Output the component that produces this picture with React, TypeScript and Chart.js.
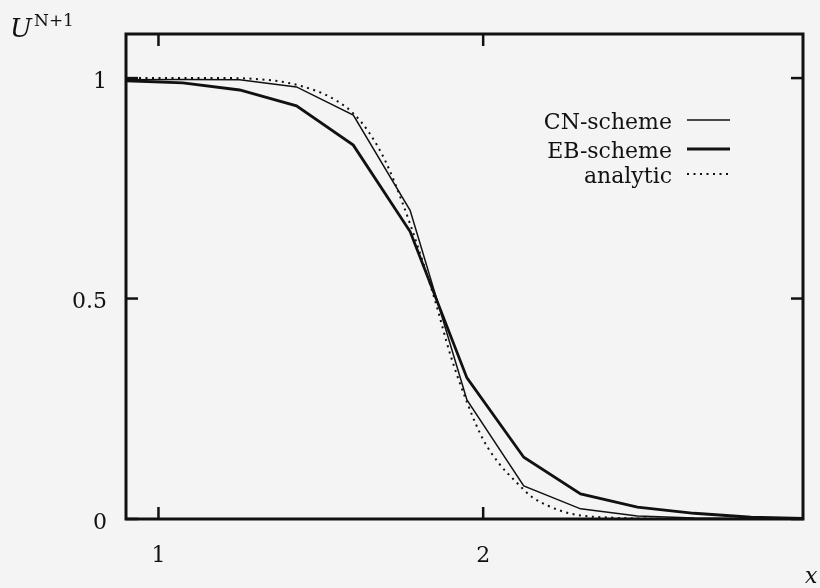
import React, { useEffect, useRef } from "react";
import { Chart, registerables } from "chart.js";

Chart.register(...registerables);

// Node positions of the numerical schemes
const nodeX = [0.9, 1.075, 1.25, 1.425, 1.6, 1.775, 1.95, 2.125, 2.3, 2.475, 2.65, 2.825, 3.0];
const cnValues = [0.996, 0.997, 0.996, 0.98, 0.916, 0.7, 0.27, 0.075, 0.023, 0.007, 0.002, 0.0005, 0];
const ebValues = [0.994, 0.989, 0.973, 0.937, 0.848, 0.652, 0.32, 0.14, 0.057, 0.027, 0.013, 0.004, 0.001];

// Analytic solution
const analyticX = [0.9, 1.0, 1.1, 1.2, 1.3, 1.4, 1.5, 1.55, 1.6, 1.65, 1.7, 1.75, 1.8, 1.85, 1.9, 1.95, 2.0, 2.05, 2.1, 2.15, 2.2, 2.25, 2.3, 2.4, 2.5, 2.6, 2.8, 3.0];
const analyticValues = [1.0, 1.0, 1.0, 1.0, 0.998, 0.989, 0.967, 0.948, 0.92, 0.875, 0.81, 0.72, 0.615, 0.5, 0.37, 0.265, 0.18, 0.125, 0.085, 0.05, 0.03, 0.016, 0.008, 0.003, 0.001, 0, 0, 0];

const xTicks = [1, 2];
const yTicks = [0, 0.5, 1];
const xTickLabels = ["1", "2"];
const yTickLabels = ["0", "0.5", "1"];

const legendLabels = ["CN-scheme", "EB-scheme", "analytic"];

const INK = "#111111";
const SERIF = "'DejaVu Serif', 'Liberation Serif', serif";

const decorPlugin = {
  id: "decor",
  beforeDraw(chart: any) {
    const { ctx, width, height } = chart;
    ctx.save();
    ctx.fillStyle = "#f4f4f4";
    ctx.fillRect(0, 0, width, height);
    ctx.restore();
  },
  afterDatasetsDraw(chart: any) {
    const { ctx, chartArea: a, scales } = chart;
    ctx.save();
    ctx.strokeStyle = INK;
    ctx.lineWidth = 3;
    ctx.strokeRect(a.left, a.top, a.right - a.left, a.bottom - a.top);

    const seg = (x1: number, y1: number, x2: number, y2: number) => {
      ctx.beginPath();
      ctx.moveTo(x1, y1);
      ctx.lineTo(x2, y2);
      ctx.stroke();
    };
    ctx.lineWidth = 2.5;
    xTicks.forEach((v) => {
      const px = scales.x.getPixelForValue(v);
      seg(px, a.bottom, px, a.bottom - 12);
      seg(px, a.top, px, a.top + 12);
    });
    yTicks.forEach((v) => {
      const py = scales.y.getPixelForValue(v);
      seg(a.left, py, a.left + 12, py);
      seg(a.right, py, a.right - 12, py);
    });

    // Legend
    const ds = chart.data.datasets;
    const textRight = 672;
    const baselines = [129, 158, 183];
    ctx.font = `22px ${SERIF}`;
    ctx.fillStyle = INK;
    ctx.textAlign = "right";
    ctx.textBaseline = "alphabetic";
    legendLabels.forEach((lab, i) => {
      ctx.fillText(lab, textRight, baselines[i]);
      const ly = baselines[i] - 9;
      const d = ds[i];
      ctx.strokeStyle = INK;
      ctx.lineWidth = d.borderWidth;
      ctx.setLineDash(d.borderDash || []);
      seg(687, ly, 730, ly);
      ctx.setLineDash([]);
    });

    // Axis titles
    ctx.textAlign = "left";
    ctx.font = `italic 22px ${SERIF}`;
    ctx.fillText("x", 805, 583);
    ctx.font = `italic 26px ${SERIF}`;
    ctx.fillText("U", 10, 37);
    ctx.font = `17px ${SERIF}`;
    ctx.fillText("N+1", 34, 26);
    ctx.restore();
  },
};

export default function App() {
  const ref = useRef<HTMLCanvasElement>(null);
  useEffect(() => {
    if (!ref.current) return;
    const pts = (xs: number[], ys: number[]) => xs.map((x, i) => ({ x, y: ys[i] }));
    const chart = new Chart(ref.current, {
      type: "line",
      data: {
        datasets: [
          {
            label: legendLabels[0],
            data: pts(nodeX, cnValues),
            borderColor: INK,
            borderWidth: 1.5,
            pointRadius: 0,
            tension: 0,
          },
          {
            label: legendLabels[1],
            data: pts(nodeX, ebValues),
            borderColor: INK,
            borderWidth: 2.8,
            pointRadius: 0,
            tension: 0,
          },
          {
            label: legendLabels[2],
            data: pts(analyticX, analyticValues),
            borderColor: INK,
            borderWidth: 2,
            borderDash: [2, 4.5],
            pointRadius: 0,
            cubicInterpolationMode: "monotone",
          },
        ],
      },
      options: {
        responsive: false,
        animation: false,
        layout: { padding: { left: 0, right: 17, top: 34, bottom: 0 } },
        plugins: { legend: { display: false }, tooltip: { enabled: false } },
        scales: {
          x: {
            type: "linear",
            min: 0.9,
            max: 2.985,
            grid: { display: false, drawTicks: false },
            border: { display: false },
            afterBuildTicks: (s: any) => {
              s.ticks = xTicks.map((v) => ({ value: v }));
            },
            afterFit: (s: any) => {
              s.height = 69;
            },
            ticks: {
              padding: 24,
              maxRotation: 0,
              autoSkip: false,
              color: INK,
              font: { family: SERIF, size: 22 },
              callback: (v: any) => xTickLabels[xTicks.indexOf(Number(v))] ?? "",
            },
          },
          y: {
            type: "linear",
            min: 0,
            max: 1.1,
            grid: { display: false, drawTicks: false },
            border: { display: false },
            afterBuildTicks: (s: any) => {
              s.ticks = yTicks.map((v) => ({ value: v }));
            },
            afterFit: (s: any) => {
              s.width = 126;
            },
            ticks: {
              padding: 19,
              labelOffset: 4,
              autoSkip: false,
              color: INK,
              font: { family: SERIF, size: 22 },
              callback: (v: any) => yTickLabels[yTicks.indexOf(Number(v))] ?? "",
            },
          },
        },
      },
      plugins: [decorPlugin],
    } as any);
    return () => chart.destroy();
  }, []);
  return (
    <div style={{ position: "absolute", left: 0, top: 0, width: 820, height: 588 }}>
      <canvas ref={ref} width={820} height={588} style={{ display: "block" }} />
    </div>
  );
}
